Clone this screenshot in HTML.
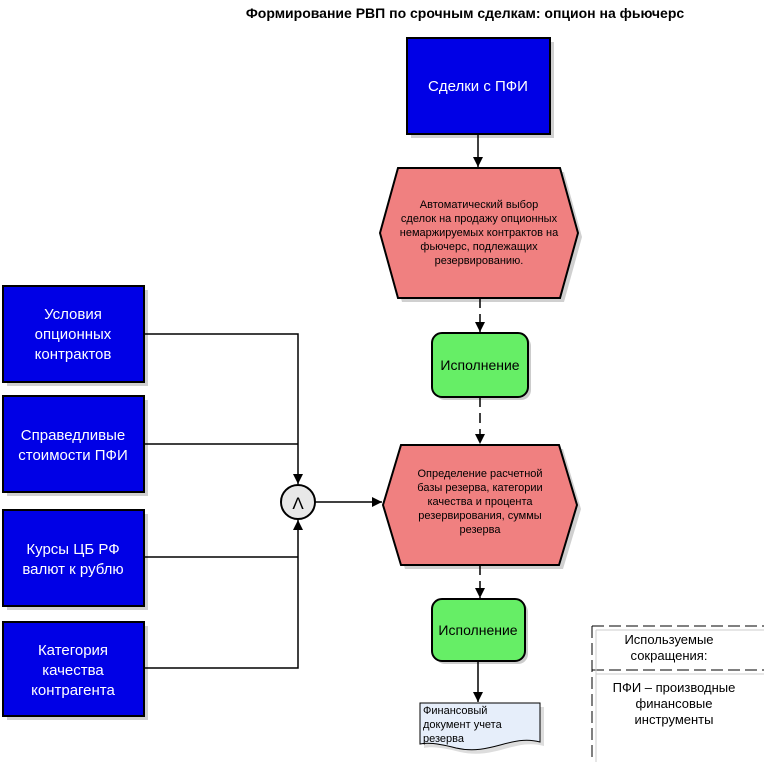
<!DOCTYPE html>
<html><head><meta charset="utf-8"><style>
body{margin:0;background:#fff}
svg{display:block;font-family:"Liberation Sans",sans-serif}
</style></head><body>
<svg width="764" height="766" viewBox="0 0 764 766" xmlns="http://www.w3.org/2000/svg">
<defs>
<marker id="a" viewBox="0 0 10 10" refX="10" refY="5" markerWidth="10" markerHeight="10" markerUnits="userSpaceOnUse" orient="auto"><path d="M0,0L10,5L0,10z" fill="#000"/></marker>
</defs>
<text x="465" y="18" font-size="14" font-weight="bold" text-anchor="middle">Формирование РВП по срочным сделкам: опцион на фьючерс</text>
<!-- shadows -->
<g fill="#d0d0d0">
<rect x="411" y="42" width="143" height="96"/>
<rect x="7" y="290" width="141" height="96"/><rect x="7" y="400" width="141" height="96"/>
<rect x="7" y="514" width="141" height="96"/><rect x="7" y="626" width="141" height="94"/>
<polygon points="402,172 564,172 582,237 564,302 402,302 384,237"/>
<polygon points="405,449 563,449 581,509 563,569 405,569 387,509"/>
</g>
<rect x="407" y="38" width="143" height="96" fill="#0000e6" stroke="#000" stroke-width="2"/>
<text x="478" y="91" font-size="15" fill="#fff" text-anchor="middle">Сделки с ПФИ</text>
<g fill="#0000e6" stroke="#000" stroke-width="2">
<rect x="3" y="286" width="141" height="96"/><rect x="3" y="396" width="141" height="96"/>
<rect x="3" y="510" width="141" height="96"/><rect x="3" y="622" width="141" height="94"/>
</g>
<g font-size="15" fill="#fff" text-anchor="middle">
<text x="73" y="319">Условия</text><text x="73" y="339">опционных</text><text x="73" y="359">контрактов</text>
<text x="73" y="440">Справедливые</text><text x="73" y="460">стоимости ПФИ</text>
<text x="73" y="554">Курсы ЦБ РФ</text><text x="73" y="574">валют к рублю</text>
<text x="73" y="655">Категория</text><text x="73" y="675">качества</text><text x="73" y="695">контрагента</text>
</g>
<polygon points="398,168 560,168 578,233 560,298 398,298 380,233" fill="#f08080" stroke="#000" stroke-width="2"/>
<g font-size="11" text-anchor="middle">
<text x="479" y="208">Автоматический выбор</text><text x="479" y="222">сделок на продажу опционных</text>
<text x="479" y="236">немаржируемых контрактов на</text><text x="479" y="250">фьючерс, подлежащих</text><text x="479" y="264">резервированию.</text>
</g>
<polygon points="401,445 559,445 577,505 559,565 401,565 383,505" fill="#f08080" stroke="#000" stroke-width="2"/>
<g font-size="11" text-anchor="middle">
<text x="480" y="477">Определение расчетной</text><text x="480" y="491">базы резерва, категории</text>
<text x="480" y="505">качества и процента</text><text x="480" y="519">резервирования, суммы</text><text x="480" y="533">резерва</text>
</g>
<rect x="435" y="336" width="96" height="64" rx="10" fill="#ccc"/>
<rect x="432" y="333" width="96" height="64" rx="10" fill="#66ee66" stroke="#000" stroke-width="2"/>
<text x="480" y="370" font-size="14" text-anchor="middle">Исполнение</text>
<rect x="435" y="602" width="93" height="62" rx="10" fill="#ccc"/>
<rect x="432" y="599" width="93" height="62" rx="10" fill="#66ee66" stroke="#000" stroke-width="2"/>
<text x="478" y="635" font-size="14" text-anchor="middle">Исполнение</text>
<path d="M424,707 H544 V746 C515,738 495,760 460,752 C445,748 432,746 424,748 Z" fill="#ddd"/>
<path d="M420,703 H540 V742 C511,734 491,756 456,748 C441,744 428,742 420,744 Z" fill="#e6eefa" stroke="#000" stroke-width="1"/>
<g font-size="11"><text x="423" y="714">Финансовый</text><text x="423" y="728">документ учета</text><text x="423" y="742">резерва</text></g>
<!-- connectors -->
<g stroke="#000" stroke-width="1.5" fill="none">
<line x1="478" y1="134" x2="478" y2="167" marker-end="url(#a)"/>
<line x1="480" y1="298" x2="480" y2="332" stroke-dasharray="10,6" marker-end="url(#a)"/>
<line x1="480" y1="397" x2="480" y2="444" stroke-dasharray="10,6" marker-end="url(#a)"/>
<line x1="480" y1="565" x2="480" y2="598" stroke-dasharray="10,6" marker-end="url(#a)"/>
<line x1="478" y1="661" x2="478" y2="702" marker-end="url(#a)"/>
<polyline points="144,334 298,334 298,484" marker-end="url(#a)"/>
<line x1="144" y1="444" x2="298" y2="444"/>
<polyline points="144,668 298,668 298,520" marker-end="url(#a)"/>
<line x1="144" y1="557" x2="298" y2="557"/>
<line x1="315" y1="502" x2="382" y2="502" marker-end="url(#a)"/>
</g>
<circle cx="298" cy="502" r="17" fill="#e8e8e8" stroke="#000" stroke-width="2"/>
<text x="298" y="509" font-size="17" text-anchor="middle">Λ</text>
<!-- legend -->
<g stroke="#000" stroke-width="1" stroke-dasharray="12,5" fill="none">
<line x1="592" y1="626" x2="764" y2="626"/><line x1="592" y1="670" x2="764" y2="670"/>
<line x1="592" y1="626" x2="592" y2="762"/>
</g>
<g stroke="#ccc" fill="none"><line x1="596" y1="630" x2="764" y2="630"/><line x1="596" y1="674" x2="764" y2="674"/><line x1="596" y1="630" x2="596" y2="762"/></g>
<g font-size="13" text-anchor="middle">
<text x="669" y="644">Используемые</text><text x="669" y="660">сокращения:</text>
<text x="674" y="692">ПФИ – производные</text><text x="674" y="708">финансовые</text><text x="674" y="724">инструменты</text>
</g>
</svg>
</body></html>
